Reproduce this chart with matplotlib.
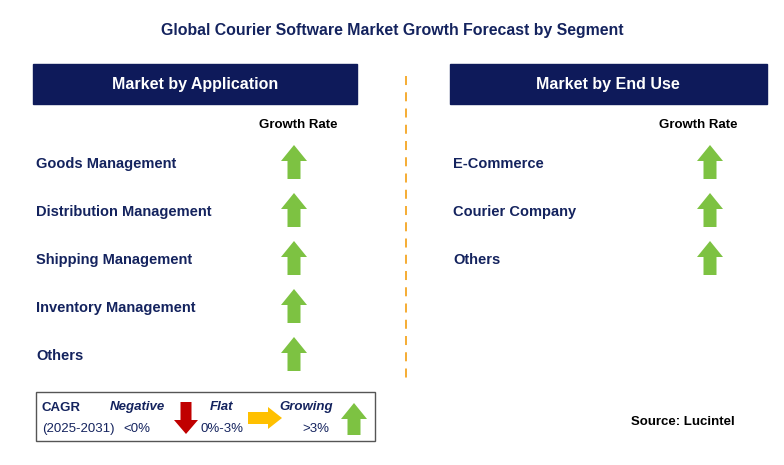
import matplotlib.pyplot as plt
from matplotlib.patches import Rectangle, FancyArrow

plt.rcParams["font.family"] = "Liberation Sans"

title = "Global Courier Software Market Growth Forecast by Segment"
app_items = ["Goods Management", "Distribution Management", "Shipping Management",
             "Inventory Management", "Others"]
app_trend = ["up", "up", "up", "up", "up"]
end_items = ["E-Commerce", "Courier Company", "Others"]
end_trend = ["up", "up", "up"]

navy = "#0E1A5A"
text_c = "#14235E"
green = "#7DC242"
red = "#C00000"
yellow = "#FFC000"

fig = plt.figure(figsize=(7.84, 4.65), dpi=100)
ax = fig.add_axes([0, 0, 1, 1])
ax.set_xlim(0, 784)
ax.set_ylim(465, 0)
ax.axis("off")


def up_arrow(x, ytop, h=34, color=green):
    ax.add_patch(FancyArrow(x, ytop + h, 0, -h, width=13, head_width=26,
                            head_length=16, length_includes_head=True,
                            color=color, lw=0))


ax.text(392, 31, title, ha="center", va="center", fontsize=11.4, fontweight="bold", color=text_c)

# headers
ax.add_patch(Rectangle((33, 64), 324, 40, color=navy))
ax.text(195, 85, "Market by Application", ha="center", va="center", fontsize=11.5,
        fontweight="bold", color="white")
ax.add_patch(Rectangle((450, 64), 317, 40, color=navy))
ax.text(608, 85, "Market by End Use", ha="center", va="center", fontsize=11.5,
        fontweight="bold", color="white")

ax.text(298, 125, "Growth Rate", ha="center", va="center", fontsize=9.5, fontweight="bold", color="black")
ax.text(698, 125, "Growth Rate", ha="center", va="center", fontsize=9.5, fontweight="bold", color="black")

ax.plot([406, 406], [76, 380], color="#F5A623", lw=1.3, ls=(0, (5, 4)))

for i, (name, t) in enumerate(zip(app_items, app_trend)):
    y = 162 + i * 48
    ax.text(36, y + 1.5, name, ha="left", va="center", fontsize=10.5, fontweight="bold", color=text_c)
    up_arrow(294, y - 17)

for i, (name, t) in enumerate(zip(end_items, end_trend)):
    y = 162 + i * 48
    ax.text(453, y + 1.5, name, ha="left", va="center", fontsize=10.5, fontweight="bold", color=text_c)
    up_arrow(710, y - 17)

# legend
ax.add_patch(Rectangle((36, 392), 339, 49, fill=False, ec="#555555", lw=1))
ax.text(42, 408, "CAGR", fontsize=9.5, fontweight="bold", color=text_c, va="center")
ax.text(42, 429, "(2025-2031)", fontsize=9.5, color=text_c, va="center")
ax.text(137, 407, "Negative", fontsize=9.5, fontweight="bold", style="italic", color=text_c, ha="center", va="center")
ax.text(137, 429, "<0%", fontsize=9.5, color=text_c, ha="center", va="center")
ax.add_patch(FancyArrow(186, 402, 0, 32, width=11, head_width=24, head_length=14,
                        length_includes_head=True, color=red, lw=0))
ax.text(222, 407, "Flat", fontsize=9.5, fontweight="bold", style="italic", color=text_c, ha="center", va="center")
ax.text(222, 429, "0%-3%", fontsize=9.5, color=text_c, ha="center", va="center")
ax.add_patch(FancyArrow(248, 418, 34, 0, width=12, head_width=22, head_length=14,
                        length_includes_head=True, color=yellow, lw=0))
ax.text(306, 407, "Growing", fontsize=9.5, fontweight="bold", style="italic", color=text_c, ha="center", va="center")
ax.text(316, 429, ">3%", fontsize=9.5, color=text_c, ha="center", va="center")
up_arrow(354, 403, h=32)

ax.text(735, 422, "Source: Lucintel", ha="right", va="center", fontsize=9.5, fontweight="bold", color="black")

fig.savefig("out.png", dpi=100)
